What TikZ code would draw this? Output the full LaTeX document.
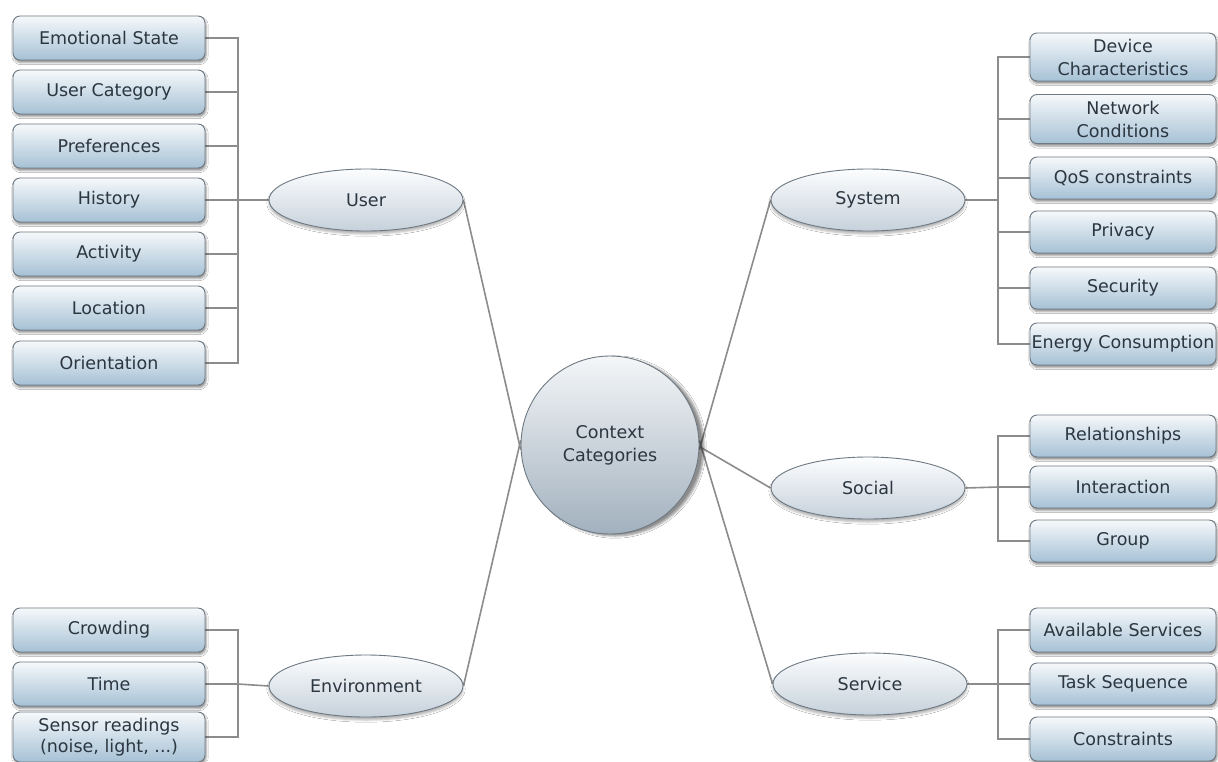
\documentclass[tikz,border=0pt]{standalone}
\usepackage{fontspec}
\setmainfont{DejaVu Sans}
\usetikzlibrary{shapes.geometric,shadows.blur}
\definecolor{boxtop}{HTML}{F6F9FB}
\definecolor{boxbot}{HTML}{A6C1D5}
\definecolor{boxline}{HTML}{6E7983}
\definecolor{ovtop}{HTML}{FCFDFE}
\definecolor{ovbot}{HTML}{C6D1DB}
\definecolor{hubtop}{HTML}{F4F6F8}
\definecolor{hubbot}{HTML}{A2B1BE}
\definecolor{wire}{HTML}{8C8C8C}
\definecolor{ink}{HTML}{2B3640}
\pgfdeclarelayer{bg}
\pgfsetlayers{bg,main}
\begin{document}
\begin{tikzpicture}[x=1pt,y=-1pt,
  every node/.style={font=\fontsize{17.5}{23}\selectfont, text=ink, inner sep=0pt, align=center},
  leaf/.style={rounded corners=7pt, draw=boxline, line width=0.9pt,
    top color=boxtop, bottom color=boxbot,
    blur shadow={shadow xshift=1pt, shadow yshift=-2.5pt, shadow blur steps=4, shadow opacity=45}},
  lbox/.style={leaf, minimum width=192, minimum height=44},
  rbox/.style={leaf, minimum width=186, minimum height=42},
  oval/.style={ellipse, draw=boxline, line width=0.9pt, top color=ovtop, bottom color=ovbot,
    minimum width=194, minimum height=62,
    blur shadow={shadow xshift=0pt, shadow yshift=-3pt, shadow blur steps=4, shadow opacity=30}},
  hub/.style={circle, draw=boxline, line width=0.9pt, top color=hubtop, bottom color=hubbot,
    minimum size=178,
    blur shadow={shadow xshift=5pt, shadow yshift=-2pt, shadow blur steps=6, shadow opacity=45}},
  wire/.style={draw=wire, line width=1.6pt}]
\useasboundingbox (0,0) rectangle (1218,761);
\clip (0,0) rectangle (1218,761);

% centre and category ovals
\node[hub] (cc) at (610,445) {Context\\Categories};
\node[oval] (user) at (366,200) {User};
\node[oval] (env) at (366,686) {Environment};
\node[oval] (sys) at (868,200) {System};
\node[oval] (soc) at (868,488) {Social};
\node[oval] (srv) at (870,684) {Service};

% user attributes
\node[lbox] (emo) at (109,38) {Emotional State};
\node[lbox] (ucat) at (109,92) {User Category};
\node[lbox] (pref) at (109,146) {Preferences};
\node[lbox] (hist) at (109,200) {History};
\node[lbox] (act) at (109,254) {Activity};
\node[lbox] (loc) at (109,308) {Location};
\node[lbox] (ori) at (109,363) {Orientation};

% environment attributes
\node[lbox] (crowd) at (109,630) {Crowding};
\node[lbox] (time) at (109,684) {Time};
\node[lbox, minimum height=50, font=\fontsize{17.5}{21.5}\selectfont] (sens) at (109,737) {Sensor readings\\(noise, light, ...)};

% system attributes
\node[rbox, minimum height=48] (dev) at (1123,57) {Device\\Characteristics};
\node[rbox, minimum height=49] (net) at (1123,119) {Network\\Conditions};
\node[rbox] (qos) at (1123,178) {QoS constraints};
\node[rbox] (priv) at (1123,232) {Privacy};
\node[rbox] (sec) at (1123,288) {Security};
\node[rbox] (ener) at (1123,344) {Energy Consumption};

% social attributes
\node[rbox] (rel) at (1123,436) {Relationships};
\node[rbox] (inter) at (1123,487) {Interaction};
\node[rbox] (grp) at (1123,541) {Group};

% service attributes
\node[rbox, minimum height=44] (avail) at (1123,630) {Available Services};
\node[rbox] (task) at (1123,684) {Task Sequence};
\node[rbox, minimum height=44] (cons) at (1123,739) {Constraints};

\coordinate (uj) at (238,200);
\coordinate (ej) at (238,684);
\coordinate (sj) at (998,200);
\coordinate (soj) at (998,487);
\coordinate (svj) at (998,684);

\begin{pgfonlayer}{bg}
  \fill[white] (0,0) rectangle (1218,761);
  % spokes to the centre
  \draw[wire] (user.east) -- (cc.183);
  \draw[wire] (env.east) -- (cc.177);
  \draw[wire] (sys.west) -- (cc.-3);
  \draw[wire] (soc.west) -- (cc.-1);
  \draw[wire] (srv.west) -- (cc.3);
  % brackets
  \draw[wire] (uj) -- (user.west);
  \foreach \b in {emo,ucat,pref,hist,act,loc,ori} \draw[wire] (\b.east) -| (uj);
  \draw[wire] (ej) -- (env.west);
  \foreach \b in {crowd,time,sens} \draw[wire] (\b.east) -| (ej);
  \draw[wire] (sys.east) -- (sj);
  \foreach \b in {dev,net,qos,priv,sec,ener} \draw[wire] (\b.west) -| (sj);
  \draw[wire] (soc.east) -- (soj);
  \foreach \b in {rel,inter,grp} \draw[wire] (\b.west) -| (soj);
  \draw[wire] (srv.east) -- (svj);
  \foreach \b in {avail,task,cons} \draw[wire] (\b.west) -| (svj);
\end{pgfonlayer}
\end{tikzpicture}
\end{document}
